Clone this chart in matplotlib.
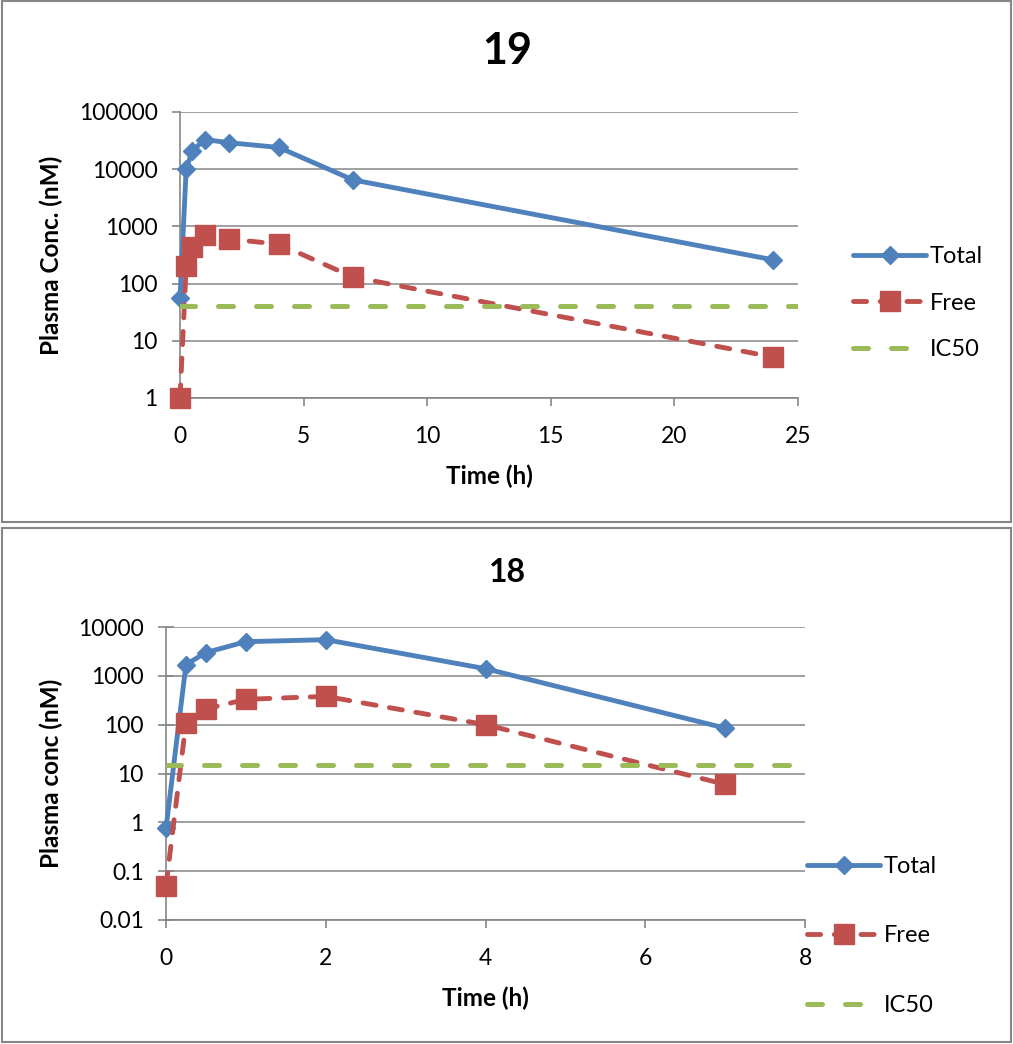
import numpy as np
import matplotlib
matplotlib.use('Agg')
import matplotlib.pyplot as plt
from matplotlib.patches import Rectangle
from matplotlib.lines import Line2D

plt.rcParams['font.family'] = ['Lato', 'DejaVu Sans']

# compound 19
t19 = [0, 0.25, 0.5, 1, 2, 4, 7, 24]
total19 = [55, 10000, 21000, 33000, 29000, 24000, 6500, 260]
free19 = [1, 200, 430, 700, 600, 490, 130, 5.2]
ic50_19_t = [0, 25]
ic50_19 = [40, 40]

# compound 18
t18 = [0, 0.25, 0.5, 1, 2, 4, 7]
total18 = [0.75, 1700, 3000, 5000, 5500, 1400, 85]
free18 = [0.05, 110, 210, 330, 380, 100, 6]
ic50_18_t = [0, 8]
ic50_18 = [15, 15]

BLUE = '#4F81BD'
RED = '#C0504D'
GREEN = '#9BBB59'
GRAY = '#868686'

W, H = 1013, 1044
fig = plt.figure(figsize=(W / 100, H / 100), dpi=100)

RED_DASH = (2.7, 2.8)
GREEN_DASH = (3, 4.6)


def px_rect(l, t, r, b):
    return [l / W, 1 - b / H, (r - l) / W, (b - t) / H]


def draw_chart(rect, title, title_y, title_size, t, total, free, ic_t, ic, xlim, xticks,
               ylim, ylabel, yticks, ylabels, ytick_dir, ytick_len, lab_x, leg_anchor, leg_space):
    ax = fig.add_axes(px_rect(*rect))
    ax.set_yscale('log')
    ax.set_xlim(*xlim)
    ax.set_ylim(*ylim)
    ax.set_xticks(xticks)
    ax.set_yticks(yticks)
    ax.set_yticklabels(ylabels)
    ax.yaxis.set_minor_locator(matplotlib.ticker.NullLocator())
    for s in ['top', 'right']:
        ax.spines[s].set_visible(False)
    for s in ['left', 'bottom']:
        ax.spines[s].set_color(GRAY)
        ax.spines[s].set_linewidth(1.2)
    ax.grid(axis='y', color=GRAY, lw=1.1)
    ax.set_axisbelow(True)
    ax.tick_params(axis='x', direction='out', length=6, width=1.2, color=GRAY, labelsize=16.5, pad=14)
    ax.tick_params(axis='y', direction=ytick_dir, length=ytick_len, width=1.2, color=GRAY,
                   labelsize=16.5, pad=10)

    ax.set_xlabel('Time (h)', fontsize=17.5, fontweight='bold', labelpad=13)
    ax.set_ylabel(ylabel, fontsize=17.5, fontweight='bold', va='center')
    ax.yaxis.set_label_coords(lab_x, 0.5)

    ax.plot(t, total, color=BLUE, lw=3.5, marker='D', ms=9.5, solid_joinstyle='round',
            solid_capstyle='round', clip_on=False, zorder=3)
    ax.plot(t, free, color=RED, lw=3.5, dashes=RED_DASH, dash_capstyle='round', marker='s', ms=14,
            clip_on=False, zorder=3)
    ax.plot(ic_t, ic, color=GREEN, lw=3.6, dashes=GREEN_DASH, dash_capstyle='round', zorder=3)

    handles = [
        Line2D([], [], color=BLUE, lw=3.5, marker='D', ms=9.5, solid_capstyle='round'),
        Line2D([], [], color=RED, lw=3.5, dashes=RED_DASH, dash_capstyle='round', marker='s', ms=14),
        Line2D([], [], color=GREEN, lw=3.6, dashes=GREEN_DASH, dash_capstyle='round'),
    ]
    fig.legend(handles, ['Total', 'Free', 'IC50'], loc='center left',
               bbox_to_anchor=(leg_anchor[0] / W, 1 - leg_anchor[1] / H),
               frameon=False, fontsize=17, handlelength=3.1, handletextpad=0.15,
               labelspacing=leg_space, borderpad=0, borderaxespad=0)

    fig.text(507 / W, 1 - title_y / H, title, fontsize=title_size, fontweight='bold',
             ha='center', va='center')
    return ax


draw_chart((180, 112, 798, 398), '19', 51, 31, t19, total19, free19, ic50_19_t, ic50_19,
           (0, 25), [0, 5, 10, 15, 20, 25], (1, 100000), 'Plasma Conc. (nM)',
           [1, 10, 100, 1000, 10000, 100000], ['1', '10', '100', '1000', '10000', '100000'],
           'out', 6, -0.209, (853, 303), 1.08)

draw_chart((166, 627, 805, 920), '18', 572, 23, t18, total18, free18, ic50_18_t, ic50_18,
           (0, 8), [0, 2, 4, 6, 8], (0.01, 10000), 'Plasma conc (nM)',
           [0.01, 0.1, 1, 10, 100, 1000, 10000], ['0.01', '0.1', '1', '10', '100', '1000', '10000'],
           'inout', 12, -0.18, (807, 936), 2.05)

# chart frames
for t, b in [(1, 522), (528, 1042)]:
    fig.patches.append(Rectangle((1.5 / W, 1 - b / H), (W - 3.5) / W, (b - t) / H,
                                 transform=fig.transFigure, fill=False, edgecolor=GRAY, lw=1.5))

fig.savefig('out.png', dpi=100)
